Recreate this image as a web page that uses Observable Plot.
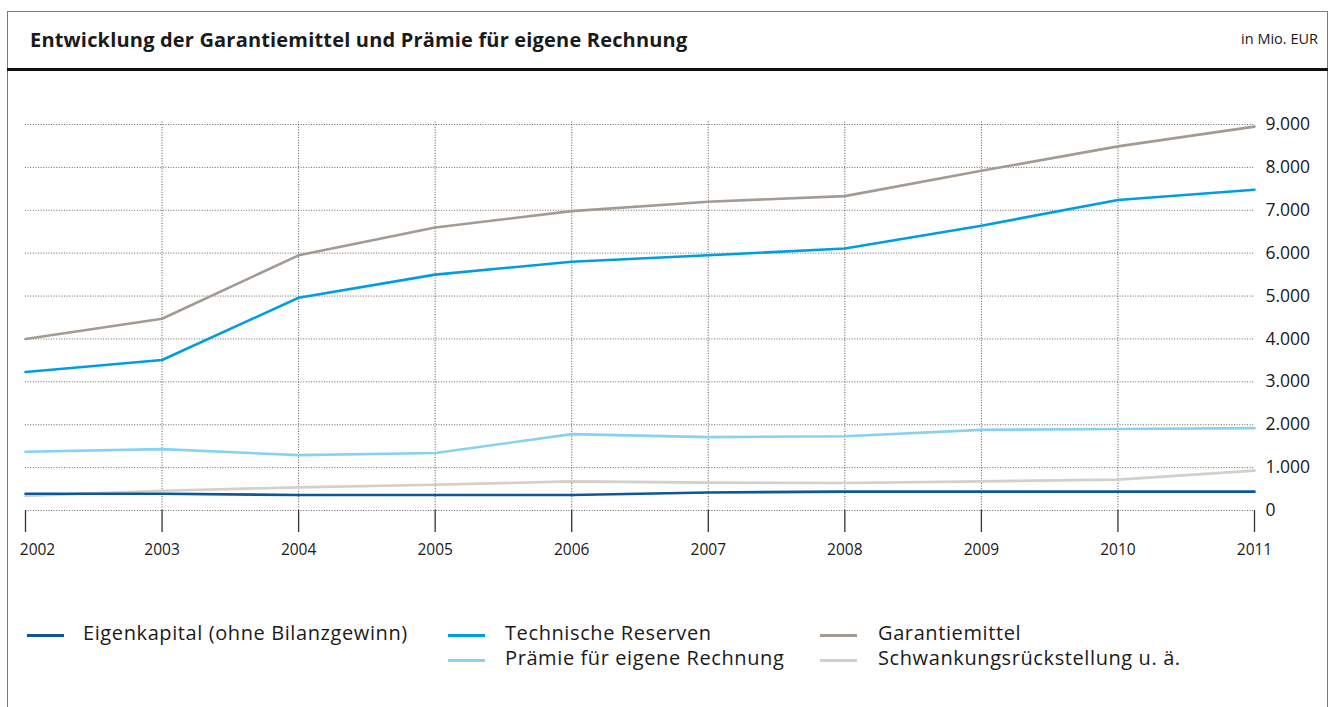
<!DOCTYPE html>
<html>
<head>
<meta charset="utf-8">
<script src="https://cdn.jsdelivr.net/npm/d3@7"></script>
<script src="https://cdn.jsdelivr.net/npm/@observablehq/plot@0.6"></script>
<style>
  html, body { margin: 0; padding: 0; background: #fff; }
  body { width: 1336px; height: 707px; position: relative; overflow: hidden; font-family: "Open Sans", "Noto Sans", sans-serif; color: #1a1a1a; }
  #frame { position: absolute; left: 7px; top: 11px; width: 1321px; height: 720px; border: 1px solid #7a7a7a; box-sizing: border-box; }
  #title { position: absolute; left: 30px; top: 26px; font-size: 20px; font-weight: 700; letter-spacing: 0.18px; line-height: 27px; }
  #unit { position: absolute; right: 18px; top: 29px; font-size: 14.5px; }
  #bar { position: absolute; left: 7px; top: 68px; width: 1321px; height: 3px; background: #111; }
  #chart { position: absolute; left: 0; top: 80px; }
  .leg { position: absolute; font-size: 20px; font-weight: 400; letter-spacing: 0.6px; white-space: nowrap; line-height: 20px; }
  .sw { position: absolute; height: 3px; }
</style>
</head>
<body>
<div id="frame"></div>
<div id="title">Entwicklung der Garantiemittel und Prämie für eigene Rechnung</div>
<div id="unit">in Mio. EUR</div>
<div id="bar"></div>
<div id="chart"></div>
<div id="legend"></div>
<script>
const years = [2002, 2003, 2004, 2005, 2006, 2007, 2008, 2009, 2010, 2011];
const eigenkapital = [390, 390, 360, 360, 360, 420, 440, 440, 440, 440];
const technischeReserven = [3230, 3510, 4960, 5500, 5800, 5950, 6110, 6640, 7240, 7480];
const garantiemittel = [4000, 4470, 5950, 6600, 6980, 7200, 7330, 7920, 8490, 8950];
const praemie = [1370, 1430, 1290, 1340, 1780, 1710, 1730, 1880, 1900, 1920];
const schwankung = [340, 460, 540, 600, 680, 650, 640, 680, 720, 930];
const yTicks = [0, 1000, 2000, 3000, 4000, 5000, 6000, 7000, 8000, 9000];

const seriesNames = ["Eigenkapital (ohne Bilanzgewinn)", "Technische Reserven", "Garantiemittel", "Prämie für eigene Rechnung", "Schwankungsrückstellung u. ä."];
const seriesColors = ["#0b5798", "#009ee0", "#a39b93", "#88d1f2", "#d3cfc9"];
const seriesValues = [eigenkapital, technischeReserven, garantiemittel, praemie, schwankung];

const rows = [];
seriesNames.forEach((name, i) => years.forEach((yr, j) => rows.push({series: name, year: yr, value: seriesValues[i][j]})));

const de = d3.formatLocale({decimal: ",", thousands: ".", grouping: [3], currency: ["", " €"]});
const fmt = de.format(",d");

const drawOrder = ["Garantiemittel", "Technische Reserven", "Prämie für eigene Rechnung", "Schwankungsrückstellung u. ä.", "Eigenkapital (ohne Bilanzgewinn)"];
const lineMarks = drawOrder.map(name => Plot.line(rows.filter(r => r.series === name), {
  x: "year", y: "value", stroke: seriesColors[seriesNames.indexOf(name)], strokeWidth: 2.6, curve: "linear"
}));

const plot = Plot.plot({
  width: 1336,
  height: 500,
  marginLeft: 25,
  marginRight: 82,
  marginTop: 44,
  marginBottom: 70,
  style: {fontFamily: "'Open Sans', 'Noto Sans', sans-serif", background: "transparent"},
  x: {type: "linear", domain: [2002, 2011], axis: null, label: null},
  y: {type: "linear", domain: [0, 9000], axis: null, label: null},
  marks: [
    Plot.ruleY(yTicks, {y: d => d, x1: 2002, x2: 2011, stroke: "#555", strokeWidth: 1, strokeDasharray: "1,1.6", strokeOpacity: 0.9}),
    Plot.ruleX(years.slice(1, -1), {x: d => d, y1: 0, y2: 9000, stroke: "#444", strokeWidth: 1, strokeDasharray: "1,1.6", strokeOpacity: 0.9, insetBottom: 3}),
    Plot.axisX(years, {anchor: "bottom", label: null, tickSize: 22, tickFormat: () => "", stroke: "#333", strokeWidth: 1.3, tickPadding: 0}),
    ...lineMarks,
    Plot.text(years.filter(d => d !== 2002), {x: d => d, y: 0, dy: 40, text: d => String(d), fontSize: 15.5, fill: "#1a1a1a", style: "letter-spacing:0.3px"}),
    Plot.text(years.filter(d => d === 2002), {x: d => d, y: 0, dy: 40, dx: 12, text: d => String(d), fontSize: 15.5, fill: "#1a1a1a"}),
    Plot.text(yTicks, {x: 2011, y: d => d, dx: 11, text: d => fmt(d), textAnchor: "start", fontSize: 17.5, fill: "#1a1a1a"})
  ]
});
document.getElementById("chart").appendChild(plot);

// legend
const legPos = [
  {sx: 27, tx: 83, y: 623},
  {sx: 448, tx: 505, y: 623},
  {sx: 820, tx: 878, y: 623},
  {sx: 448, tx: 505, y: 648},
  {sx: 820, tx: 878, y: 648}
];
const leg = document.getElementById("legend");
seriesNames.forEach((name, i) => {
  const p = legPos[i];
  const sw = document.createElement("div");
  sw.className = "sw";
  sw.style.left = p.sx + "px";
  sw.style.width = "37px";
  sw.style.top = (p.y + 11) + "px";
  sw.style.background = seriesColors[i];
  leg.appendChild(sw);
  const t = document.createElement("div");
  t.className = "leg";
  t.style.left = p.tx + "px";
  t.style.top = p.y + "px";
  t.textContent = name;
  leg.appendChild(t);
});
</script>
</body>
</html>
